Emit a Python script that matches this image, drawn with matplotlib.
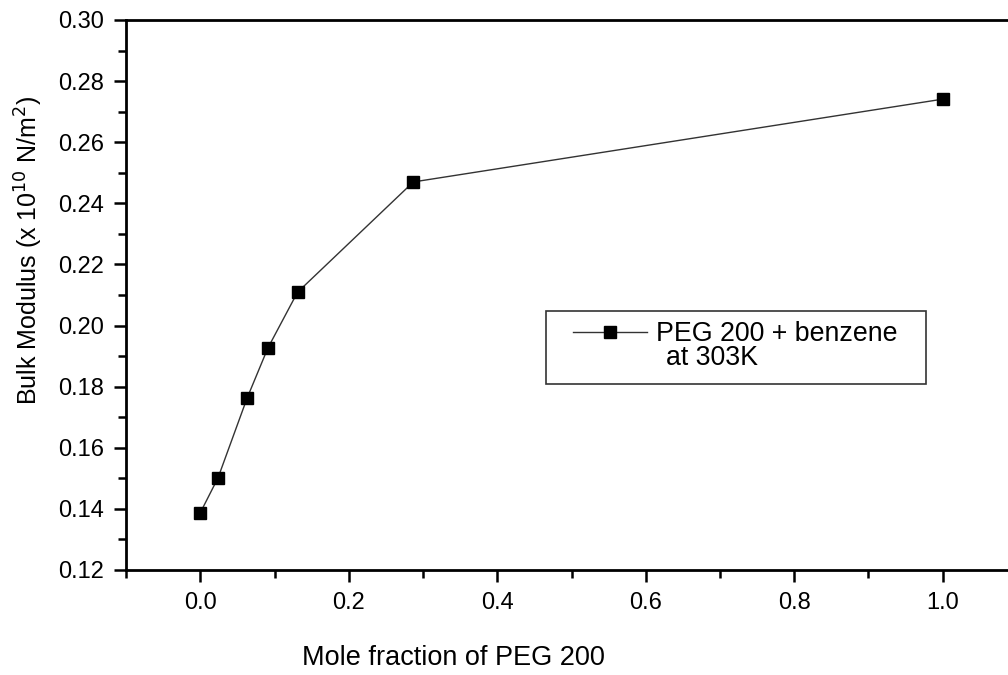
import numpy as np
import matplotlib
matplotlib.use("Agg")
import matplotlib.pyplot as plt
from matplotlib.patches import Rectangle

plt.rcParams['font.family'] = ['Liberation Sans', 'DejaVu Sans']

# mole fraction of PEG 200 and bulk modulus (x 10^10 N/m^2)
mole_frac = [0.0, 0.024, 0.063, 0.091, 0.131, 0.287, 1.0]
bulk_mod = [0.1387, 0.1502, 0.1762, 0.1926, 0.2109, 0.2470, 0.2741]

x_ticks = [0.0, 0.2, 0.4, 0.6, 0.8, 1.0]
y_ticks = [0.12, 0.14, 0.16, 0.18, 0.20, 0.22, 0.24, 0.26, 0.28, 0.30]

W, H = 1008, 675
fig = plt.figure(figsize=(W / 100, H / 100), dpi=100)
ax = fig.add_axes([126 / W, (H - 570) / H, (1017 - 126) / W, 550 / H])

ax.plot(mole_frac, bulk_mod, color='#333333', lw=1.0, marker='s', ms=9,
        mfc='black', mec='black', label='PEG 200 + benzene')

ax.set_xlim(-0.1, 1.1)
ax.set_ylim(0.12, 0.30)
ax.set_xticks(x_ticks)
ax.set_xticklabels([f'{v:.1f}' for v in x_ticks])
ax.set_yticks(y_ticks)
ax.set_yticklabels([f'{v:.2f}' for v in y_ticks])
ax.set_xticks(np.arange(-0.1, 1.11, 0.1), minor=True)
ax.set_yticks(np.arange(0.13, 0.30, 0.02), minor=True)

for s in ax.spines.values():
    s.set_linewidth(2)
ax.tick_params(which='major', direction='out', length=8.6, width=1.8, labelsize=17, pad=7)
ax.tick_params(which='minor', direction='out', length=5.5, width=1.8)

fig.text(29 / W, 1 - 250 / H, 'Bulk Modulus (x 10$^{10}$ N/m$^2$)', rotation=90,
         ha='center', va='center', fontsize=18)
fig.text(453 / W, 1 - 658 / H, 'Mole fraction of PEG 200', ha='center', va='center',
         fontsize=19.5)

# legend frame drawn separately, legend contents placed inside it
fig.patches.append(Rectangle((546 / W, 1 - 384 / H), (926 - 546) / W, 73 / H,
                             transform=fig.transFigure, fill=False,
                             edgecolor='#333333', lw=1.2))
leg = ax.legend(loc='upper left', bbox_to_anchor=(573 / W, 1 - 321 / H),
                bbox_transform=fig.transFigure, fontsize=19.3, frameon=False,
                handlelength=2.75, handletextpad=0.33, borderpad=0, borderaxespad=0)
fig.text(666 / W, 1 - 358 / H, 'at 303K', ha='left', va='center', fontsize=19.3)

fig.savefig('out.png', dpi=100)
